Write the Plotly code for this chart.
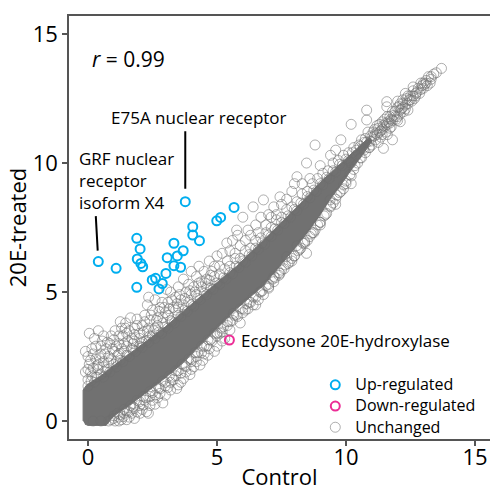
import plotly.graph_objects as go

# ---------------- data (log2 expression) ----------------
up_x = [0.40, 1.09, 1.89, 2.02, 1.91, 2.05, 2.12, 1.89, 2.49, 2.62, 2.75, 2.88, 3.02,
        3.07, 3.33, 3.46, 3.33, 3.69, 3.59, 3.77, 4.06, 4.06, 4.32, 4.99, 5.14, 5.66]
up_y = [6.18, 5.92, 7.08, 6.67, 6.28, 6.11, 5.98, 5.18, 5.47, 5.53, 5.12, 5.33, 5.72,
        6.33, 6.89, 6.40, 6.02, 6.60, 5.96, 8.50, 7.53, 7.21, 6.99, 7.76, 7.89, 8.28]

down_x = [5.48]
down_y = [3.14]

# dense core of unchanged genes (outline of the solid band)
core_x = [-0.19, -0.19, -0.05, 0.5, 1.0, 1.6, 2.27, 3.0, 3.57, 4.2, 4.86, 5.76, 6.5, 7.2,
          7.7, 8.4, 9.0, 9.6, 10.0, 10.5, 10.9, 11.0, 10.7, 10.28, 9.8, 9.38, 8.9, 8.34,
          7.6, 6.8, 5.76, 4.86, 4.2, 3.57, 2.9, 2.27, 1.6, 1.0, 0.7, 0.0, -0.12]
core_y = [0.0, 1.2, 1.4, 1.75, 2.15, 2.6, 3.1, 3.65, 4.15, 4.7, 5.25, 6.0, 6.7, 7.4,
          7.9, 8.6, 9.25, 9.8, 10.15, 10.6, 11.0, 10.85, 10.4, 9.85, 9.15, 8.6, 7.85, 7.1,
          6.2, 5.25, 4.35, 3.45, 2.8, 2.15, 1.6, 1.1, 0.6, 0.2, -0.17, -0.17, -0.12]

unchanged_upper = [
    (-0.1, 1.9), (0.05, 2.2), (0.0, 2.5), (0.2, 2.05), (0.3, 2.4), (0.15, 2.8), (0.4, 2.2),
    (0.5, 2.6), (0.55, 3.1), (0.6, 2.3), (0.7, 2.8), (0.8, 2.5), (0.85, 3.0), (0.9, 3.3),
    (1.0, 2.7), (0.25, 3.2), (-0.1, 2.7), (1.1, 2.9), (1.2, 3.3), (1.3, 3.6), (1.4, 3.0),
    (1.5, 3.4), (1.46, 3.8), (1.7, 3.2), (1.8, 3.6), (1.9, 3.95), (2.0, 3.4), (1.25, 3.85),
    (1.65, 4.0), (2.1, 3.7), (2.2, 4.1), (2.3, 4.5), (2.4, 3.9), (2.5, 4.3), (2.6, 4.7),
    (2.7, 4.0), (2.8, 4.4), (2.87, 4.6), (3.0, 4.2), (2.35, 4.8), (3.1, 4.6), (3.2, 5.0),
    (3.3, 4.4), (3.4, 4.8), (3.5, 5.2), (3.6, 4.7), (3.7, 5.5), (3.8, 5.0), (3.9, 5.3),
    (4.0, 5.8), (3.05, 5.1), (4.1, 5.2), (4.2, 5.6), (4.3, 6.0), (4.4, 5.4), (4.5, 5.8),
    (4.6, 5.5), (4.7, 6.2), (4.8, 5.8), (4.9, 6.0), (5.0, 6.4), (5.1, 6.0), (5.2, 6.5),
    (5.38, 6.9), (5.4, 6.2), (5.5, 6.6), (5.6, 7.0), (5.7, 6.5), (5.8, 7.2), (5.9, 6.8),
    (6.0, 7.9), (5.76, 7.4), (6.1, 7.0), (6.2, 7.4), (6.3, 7.2), (6.4, 8.3), (6.5, 7.6),
    (6.6, 7.3), (6.7, 7.9), (6.8, 8.57), (6.9, 7.6), (7.0, 8.0), (7.1, 7.9), (7.2, 8.3),
    (7.3, 8.0), (7.44, 8.69), (7.5, 8.4), (7.7, 8.6), (7.9, 8.9), (8.0, 9.2), (8.1, 9.47),
    (8.3, 9.2), (8.47, 10.0), (8.6, 9.4), (8.8, 10.7), (9.0, 9.9), (9.4, 10.3), (9.6, 10.5),
    (9.8, 10.9), (10.2, 11.5), (10.8, 12.05), (10.8, 11.67), (11.58, 12.18), (12.1, 12.3),
    (0.0, 2.0), (0.1, 2.35), (0.2, 2.6), (0.3, 2.9), (0.35, 2.15), (0.45, 2.45), (0.5, 2.9),
    (0.6, 3.3), (0.65, 2.6), (0.75, 3.05), (0.8, 2.25), (0.95, 2.8), (1.0, 3.15), (1.05, 3.5),
    (1.15, 2.55), (1.2, 3.0), (1.3, 2.8), (1.35, 3.3), (1.45, 3.6), (1.55, 3.1), (1.6, 3.5),
    (1.75, 3.0), (1.8, 3.35), (1.9, 3.7), (2.05, 3.0), (2.15, 3.45), (2.2, 3.85), (2.35, 3.6),
    (2.45, 4.1), (2.55, 3.5), (2.65, 3.9), (2.75, 4.25), (2.9, 4.0), (2.95, 4.4), (3.15, 4.35),
    (3.25, 4.7), (3.45, 4.55), (3.55, 4.9), (3.75, 4.75), (3.95, 5.05), (4.15, 5.0),
    (4.3, 5.35), (4.55, 5.35), (4.75, 5.65), (0.05, 3.4), (0.4, 3.5), (0.15, 1.75),
]

unchanged_lower = [
    (1.2, 0.0), (1.37, 0.17), (1.5, 0.05), (1.7, 0.3), (1.8, 0.1), (2.02, 0.3), (2.14, 0.62),
    (2.27, 0.36), (2.34, 0.3), (2.5, 0.8), (2.79, 1.07), (2.9, 0.7), (3.1, 1.3), (3.44, 1.26),
    (3.3, 1.6), (3.6, 1.5), (3.8, 1.9), (4.0, 2.0), (4.2, 2.3), (4.34, 2.17), (4.5, 2.6),
    (4.7, 2.8), (4.9, 2.7), (5.12, 3.4), (5.3, 3.2), (5.5, 3.53), (5.63, 4.17), (5.9, 3.8),
    (6.1, 4.3), (6.3, 4.6), (6.5, 4.5), (6.7, 5.0), (7.0, 5.2), (7.2, 5.6), (7.44, 5.72),
    (7.7, 6.37), (7.9, 6.2), (8.1, 6.8), (8.34, 6.89), (8.47, 6.5), (8.7, 7.3), (9.0, 7.6),
    (9.38, 8.57), (9.6, 8.4), (9.9, 9.0), (10.2, 9.2),
    (1.05, 0.0), (1.3, 0.05), (1.6, 0.15), (1.9, 0.35), (2.1, 0.45), (2.4, 0.6), (2.6, 0.65),
    (2.7, 0.9), (3.0, 1.0), (3.2, 1.2), (3.5, 1.4), (3.7, 1.65), (3.95, 1.8), (4.1, 2.1),
    (4.45, 2.35), (4.65, 2.55), (5.0, 2.9), (5.2, 3.1),
]

unchanged_halo = [
    (0.0, 1.6), (0.1, 1.9), (0.3, 1.7), (0.4, 2.0), (0.6, 2.1), (0.7, 1.9), (0.9, 2.4),
    (1.1, 2.3), (1.2, 2.6), (1.4, 2.7), (1.5, 2.9), (1.7, 2.8), (1.8, 3.1), (2.0, 3.2),
    (2.1, 3.05), (2.3, 3.5), (2.4, 3.3), (2.6, 3.6), (2.7, 3.7), (2.9, 3.8), (3.1, 4.1),
    (3.2, 3.9), (3.4, 4.3), (3.5, 4.4), (3.7, 4.5), (3.9, 4.6), (4.0, 4.9), (4.2, 4.9),
    (4.4, 5.2), (4.6, 5.2), (4.7, 5.45), (4.9, 5.6), (5.1, 5.7), (5.3, 5.9), (5.5, 6.0),
    (5.7, 6.3), (5.9, 6.3), (6.1, 6.6), (6.3, 6.7), (6.5, 7.0), (6.7, 7.1), (6.9, 7.3),
    (7.1, 7.5), (7.3, 7.8), (7.5, 7.9), (7.7, 8.2), (7.9, 8.3), (8.1, 8.5), (8.3, 8.8),
    (8.5, 8.9), (8.7, 9.2), (8.9, 9.4), (9.1, 9.6), (9.3, 9.7), (9.5, 10.0), (9.7, 10.1),
    (9.9, 10.3),
    (0.2, 0.0), (0.5, 0.0), (0.8, 0.0), (1.0, 0.1), (1.2, 0.15), (1.4, 0.3), (1.6, 0.35),
    (1.8, 0.5), (2.0, 0.6), (2.2, 0.8), (2.4, 0.95), (2.6, 1.0), (2.8, 1.25), (3.0, 1.35),
    (3.2, 1.5), (3.4, 1.75), (3.6, 1.85), (3.8, 2.1), (4.0, 2.3), (4.2, 2.5), (4.4, 2.65),
    (4.6, 2.9), (4.8, 3.1), (5.0, 3.3), (5.2, 3.45), (5.4, 3.7), (5.6, 3.9), (5.8, 4.05),
    (6.0, 4.2), (6.2, 4.35), (6.4, 4.5), (6.6, 4.7), (6.8, 4.9), (7.0, 5.15), (7.2, 5.4),
    (7.4, 5.65), (7.6, 5.9), (7.8, 6.15), (8.0, 6.4), (8.2, 6.65), (8.4, 6.9), (8.6, 7.15),
    (8.8, 7.4), (9.0, 7.7), (9.2, 8.0), (9.4, 8.3), (9.6, 8.6), (9.8, 8.9), (10.0, 9.2),
    (10.2, 9.5),
]

unchanged_edge = [
    (0.0, 1.35), (0.12, 1.55), (0.25, 1.5), (0.35, 1.7), (0.5, 1.8), (0.6, 1.7), (0.75, 2.0),
    (0.85, 1.9), (1.0, 2.2), (1.1, 2.1), (1.25, 2.35), (1.35, 2.3), (1.5, 2.55), (1.6, 2.5),
    (1.75, 2.75), (1.85, 2.7), (2.0, 2.9), (2.1, 2.85), (2.25, 3.1), (2.35, 3.05), (2.5, 3.3),
    (2.6, 3.2), (2.75, 3.45), (2.85, 3.4), (3.0, 3.65), (3.1, 3.6), (3.25, 3.85), (3.35, 3.8),
    (3.5, 4.1), (3.6, 4.05), (3.75, 4.3), (3.85, 4.25), (4.0, 4.5), (4.1, 4.45), (4.25, 4.75),
    (4.35, 4.7), (4.5, 4.95), (4.6, 4.9), (4.75, 5.15), (4.85, 5.1), (5.0, 5.35), (5.1, 5.3),
    (5.25, 5.55), (5.35, 5.5), (5.5, 5.75), (5.6, 5.7), (5.75, 6.0), (5.85, 5.95), (6.0, 6.2),
    (6.1, 6.15), (6.25, 6.45), (6.35, 6.4), (6.5, 6.7), (6.6, 6.65), (6.75, 6.9), (6.85, 6.85),
    (7.0, 7.2), (7.1, 7.15), (7.25, 7.45), (7.35, 7.4), (7.5, 7.7), (7.6, 7.65), (7.75, 7.95),
    (7.85, 7.9), (8.0, 8.2), (8.1, 8.15), (8.25, 8.45), (8.35, 8.4), (8.5, 8.7), (8.6, 8.65),
    (8.75, 8.95), (8.85, 8.9), (9.0, 9.2), (9.1, 9.15), (9.25, 9.45), (9.35, 9.4), (9.5, 9.7),
    (9.6, 9.65), (9.75, 9.95), (9.85, 9.9), (10.0, 10.15), (10.1, 10.1), (10.25, 10.4),
    (10.4, 10.5), (10.55, 10.65), (10.7, 10.8),
    (0.9, 0.05), (1.0, 0.2), (1.15, 0.3), (1.25, 0.25), (1.4, 0.45), (1.5, 0.4), (1.65, 0.6),
    (1.75, 0.55), (1.9, 0.8), (2.0, 0.75), (2.15, 0.95), (2.25, 0.9), (2.4, 1.15), (2.5, 1.1),
    (2.65, 1.3), (2.75, 1.3), (2.9, 1.55), (3.0, 1.5), (3.15, 1.75), (3.25, 1.7), (3.4, 1.95),
    (3.5, 1.95), (3.65, 2.2), (3.75, 2.15), (3.9, 2.4), (4.0, 2.4), (4.15, 2.65), (4.25, 2.65),
    (4.4, 2.9), (4.5, 2.9), (4.65, 3.15), (4.75, 3.15), (4.9, 3.4), (5.0, 3.4), (5.15, 3.6),
    (5.25, 3.65), (5.4, 3.85), (5.5, 3.85), (5.65, 4.1), (5.75, 4.1), (5.9, 4.35), (6.0, 4.35),
    (6.15, 4.55), (6.25, 4.6), (6.4, 4.8), (6.5, 4.8), (6.65, 5.0), (6.75, 5.05), (6.9, 5.25),
    (7.0, 5.3), (7.15, 5.5), (7.25, 5.55), (7.4, 5.75), (7.5, 5.85), (7.65, 6.05), (7.75, 6.1),
    (7.9, 6.3), (8.0, 6.4), (8.15, 6.6), (8.25, 6.7), (8.4, 6.95), (8.5, 7.0), (8.65, 7.25),
    (8.75, 7.3), (8.9, 7.6), (9.0, 7.7), (9.15, 7.95), (9.25, 8.05), (9.4, 8.35), (9.5, 8.45),
    (9.65, 8.75), (9.75, 8.85), (9.9, 9.15), (10.0, 9.3), (10.15, 9.55), (10.3, 9.75),
    (10.45, 10.0), (10.6, 10.2), (10.75, 10.4), (10.9, 10.6),
]

unchanged_top = [
    (10.1, 10.4), (10.2, 10.0), (10.3, 10.6), (10.35, 9.9), (10.4, 10.3), (10.5, 10.7),
    (10.55, 10.2), (10.6, 10.9), (10.67, 10.57), (10.7, 10.5), (10.8, 10.8), (10.85, 11.2),
    (10.9, 10.6), (11.0, 11.0), (11.1, 11.3), (11.15, 10.9), (11.2, 11.1), (11.3, 11.5),
    (11.35, 11.0), (11.4, 11.3), (11.45, 10.57), (11.5, 11.7), (11.55, 11.2), (11.6, 11.5),
    (11.7, 11.8), (11.75, 11.4), (11.8, 11.65), (11.8, 10.9), (11.9, 12.0), (12.0, 11.8),
    (12.05, 12.2), (12.1, 11.6), (12.1, 11.9), (12.2, 12.3), (12.3, 12.1), (12.35, 12.5),
    (12.4, 12.3), (12.5, 12.6), (12.55, 12.4), (12.6, 12.8), (12.7, 12.6), (12.8, 12.9),
    (12.9, 13.1), (13.0, 12.9), (13.1, 13.2), (13.2, 13.35), (13.26, 13.1), (13.4, 13.45),
    (13.7, 13.67), (11.58, 12.38),
    (10.75, 10.95), (10.95, 10.85), (11.05, 11.2), (11.25, 11.35), (11.45, 11.45),
    (11.65, 11.6), (11.85, 11.85), (11.95, 11.7), (12.15, 12.1), (12.25, 12.0),
    (12.45, 12.45), (12.65, 12.5), (12.75, 12.75), (12.85, 12.7), (12.95, 13.0),
    (13.05, 13.05), (13.15, 13.0), (13.3, 13.25), (13.5, 13.5), (11.0, 10.7),
    (11.25, 10.8), (11.6, 11.1), (12.0, 12.4), (12.3, 12.7), (10.95, 11.05), (11.15, 11.15),
    (11.35, 11.25), (11.55, 11.55), (11.75, 11.7), (12.2, 12.15), (12.6, 12.6), (13.0, 13.1),
    (11.1, 11.05), (11.3, 11.2), (11.5, 11.4), (11.7, 11.55), (11.9, 11.8), (12.1, 12.05),
    (12.3, 12.25), (12.5, 12.45), (12.7, 12.7), (12.9, 12.85), (13.1, 13.1), (13.3, 13.35),
    (11.2, 11.45), (11.4, 11.6), (11.6, 11.8), (11.8, 12.0), (12.0, 12.15), (12.2, 12.45),
    (12.4, 12.6), (12.6, 12.95), (11.4, 11.1), (11.7, 11.35), (12.0, 11.65), (12.4, 12.05),
]

unchanged = unchanged_upper + unchanged_lower + unchanged_halo + unchanged_edge + unchanged_top
unchanged_x = [p[0] for p in unchanged]
unchanged_y = [p[1] for p in unchanged]

tick_vals = [0, 5, 10, 15]
tick_text = ["0", "5", "10", "15"]

FONT = "Open Sans"
BLUE = "#00AEEF"
PINK = "#EC2D96"

fig = go.Figure()

fig.add_trace(go.Scatter(
    x=core_x, y=core_y, mode="lines", fill="toself", fillcolor="#717171",
    line=dict(color="#717171", width=1), showlegend=False, hoverinfo="skip"))

fig.add_trace(go.Scatter(
    x=unchanged_x, y=unchanged_y, mode="markers",
    name='<span style="font-size:16px">Unchanged</span>',
    marker=dict(symbol="circle-open", size=10, color="rgba(110,110,110,0.55)",
                line=dict(width=1))))

fig.add_trace(go.Scatter(
    x=down_x, y=down_y, mode="markers",
    name='<span style="font-size:16px">Down-regulated</span>',
    marker=dict(symbol="circle-open", size=9, color=PINK, line=dict(width=2))))

fig.add_trace(go.Scatter(
    x=up_x, y=up_y, mode="markers",
    name='<span style="font-size:16px">Up-regulated</span>',
    marker=dict(symbol="circle-open", size=9, color=BLUE, line=dict(width=2))))

# labels
grf_i = 0
e75_i = 19
ann = [
    dict(x=0.05, y=0.898, xref="paper", yref="paper", text="<i>r</i> = 0.99",
         showarrow=False, xanchor="left", yanchor="middle", font=dict(size=21)),
    dict(x=up_x[e75_i], y=up_y[e75_i], text="E75A nuclear receptor", showarrow=False,
         xanchor="center", yanchor="middle", xshift=14, yshift=84, font=dict(size=17)),
    dict(x=up_x[e75_i], y=up_y[e75_i], text="", showarrow=True, arrowhead=0,
         arrowwidth=2, arrowcolor="black", ax=0, ay=-72, standoff=13),
    dict(x=up_x[grf_i], y=up_y[grf_i], text="GRF nuclear<br>receptor<br>isoform X4",
         showarrow=False, xanchor="left", yanchor="bottom", align="left",
         xshift=-21, yshift=46, font=dict(size=17)),
    dict(x=up_x[grf_i], y=up_y[grf_i], text="", showarrow=True, arrowhead=0,
         arrowwidth=2, arrowcolor="black", ax=-2.6, ay=-47, standoff=11),
    dict(x=down_x[0], y=down_y[0], text="Ecdysone 20E-hydroxylase", showarrow=False,
         xanchor="left", yanchor="middle", xshift=10, font=dict(size=17)),
]

axis_common = dict(
    showgrid=False, zeroline=False, showline=True, linecolor="#555", linewidth=1.5,
    ticks="outside", ticklen=5, tickwidth=1.5, tickcolor="#555", automargin=False,
    tickvals=tick_vals, ticktext=tick_text, tickfont=dict(size=22, color="black"),
)

fig.update_layout(
    width=492, height=491,
    margin=dict(l=69, r=2, t=16, b=52),
    paper_bgcolor="white", plot_bgcolor="white",
    font=dict(family=FONT, color="black", size=17),
    xaxis=dict(range=[-0.736, 15.58], mirror=True, ticklabelstandoff=-7,
               title=dict(text="Control", font=dict(size=22), standoff=6), **axis_common),
    yaxis=dict(range=[-0.698, 15.7],
               title=dict(text="20E-treated", font=dict(size=22), standoff=0), **axis_common),
    legend=dict(x=0.585, y=-0.01, xanchor="left", yanchor="bottom", traceorder="reversed",
                font=dict(size=14), bgcolor="rgba(0,0,0,0)", itemwidth=30),
    annotations=ann,
)

fig.write_html("out.html")
